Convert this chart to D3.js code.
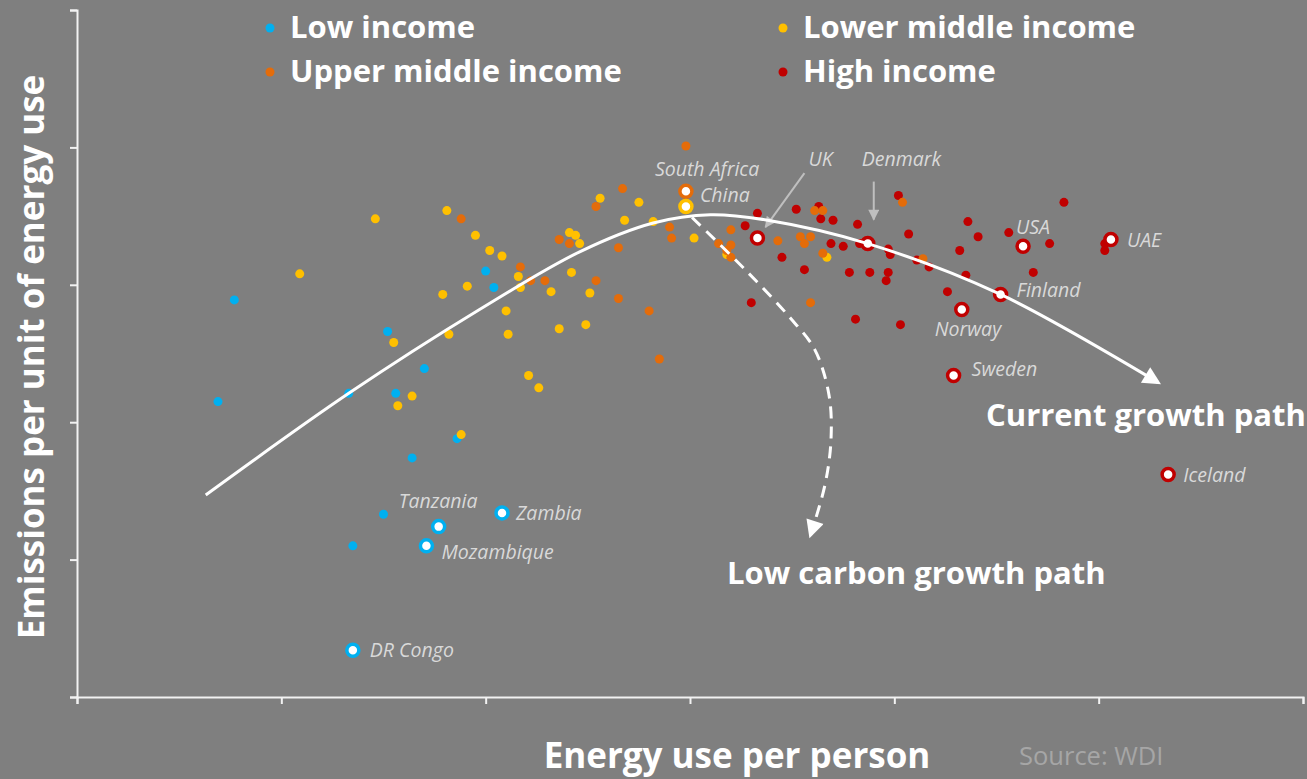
<!DOCTYPE html>
<html>
<head>
<meta charset="utf-8">
<script src="https://cdn.jsdelivr.net/npm/d3@7/dist/d3.min.js"></script>
<style>
  body { margin: 0; background: #7f7f7f; }
  text { font-family: "Open Sans", sans-serif; }
</style>
</head>
<body>
<svg id="vis"></svg>
<script>
// income groups (legend order)
var groups = ["Low income", "Lower middle income", "Upper middle income", "High income"];
var groupColors = ["#00b0f0", "#ffc000", "#e46c0a", "#c00000"];

// [energy use per person, emissions per unit of energy use]
var lowIncome = [
    [0.69,2.15],[0.77,2.89],[1.33,2.21],[1.52,2.66],[1.56,2.21],[1.70,2.39],
    [1.64,1.74],[1.86,1.88],[1.50,1.33],[1.35,1.10],[2.00,3.10],[2.04,2.98]
];
var lowerMiddle = [
    [1.46,3.48],[1.81,3.54],[1.95,3.36],[1.09,3.08],[1.79,2.93],[1.91,2.99],
    [1.55,2.58],[1.82,2.64],[1.64,2.19],[1.57,2.12],[1.88,1.91],[2.56,3.63],
    [2.75,3.60],[2.68,3.47],[2.41,3.38],[2.44,3.36],[2.46,3.30],[2.02,3.25],
    [2.08,3.21],[2.16,3.06],[2.17,2.98],[2.42,3.09],[2.32,2.95],[2.51,2.94],
    [2.10,2.81],[2.11,2.64],[2.36,2.68],[2.49,2.71],[2.82,3.46],[3.02,3.34],
    [2.21,2.34],[2.26,2.25],[3.18,3.22],[3.67,3.20]
];
var upperMiddle = [
    [1.88,3.48],[2.98,4.01],[2.67,3.70],[2.54,3.57],[2.36,3.33],[2.41,3.30],
    [2.65,3.27],[2.17,3.13],[2.22,3.03],[2.29,3.03],[2.54,3.03],[2.65,2.90],
    [2.80,2.81],[2.85,2.46],[2.90,3.42],[2.91,3.34],[3.20,3.40],[3.14,3.30],
    [3.20,3.29],[3.18,3.25],[3.20,3.20],[3.43,3.32],[3.54,3.35],[3.59,3.35],
    [3.56,3.30],[3.61,3.54],[3.65,3.54],[3.65,3.23],[4.04,3.60],[4.14,3.19],
    [3.59,2.87]
];
var highIncome = [
    [3.33,3.52],[3.27,3.43],[3.52,3.55],[3.63,3.57],[3.64,3.48],[3.70,3.47],
    [3.82,3.44],[4.02,3.65],[3.45,3.20],[3.56,3.11],[3.69,3.30],[3.75,3.28],
    [3.83,3.30],[3.78,3.09],[3.88,3.09],[3.97,3.26],[3.98,3.22],[3.97,3.09],
    [3.96,3.03],[4.07,3.37],[4.11,3.18],[4.17,3.13],[3.30,2.87],[3.81,2.75],
    [4.03,2.71],[4.26,2.95],[4.32,3.25],[4.36,3.46],[4.41,3.35],[4.35,3.07],
    [4.56,3.38],[4.76,3.30],[4.68,3.09],[4.83,3.60],[5.03,3.25],[5.03,3.30]
];
var seriesData = [lowIncome, lowerMiddle, upperMiddle, highIncome];

// named countries: [name, group index, x, y]
var countries = [
    ["Tanzania", 0, 1.77, 1.24],
    ["Zambia", 0, 2.08, 1.34],
    ["Mozambique", 0, 1.71, 1.10],
    ["DR Congo", 0, 1.35, 0.34],
    ["South Africa", 2, 2.98, 3.68],
    ["China", 1, 2.98, 3.57],
    ["UK", 3, 3.33, 3.34],
    ["Denmark", 3, 3.87, 3.30],
    ["USA", 3, 4.63, 3.28],
    ["UAE", 3, 5.06, 3.33],
    ["Finland", 3, 4.52, 2.93],
    ["Norway", 3, 4.33, 2.82],
    ["Sweden", 3, 4.29, 2.34],
    ["Iceland", 3, 5.34, 1.62]
];

// the two growth paths drawn over the points
var currentPath = [
    [0.63,1.47],[1.33,2.21],[1.97,2.82],[2.46,3.24],[2.82,3.45],[3.10,3.51],
    [3.38,3.47],[3.87,3.30],[4.52,2.93],[5.29,2.29]
];
var lowCarbonPath = [
    [3.01,3.49],[3.27,3.11],[3.49,2.76],[3.61,2.53],[3.68,2.20],[3.69,1.87],
    [3.66,1.54],[3.59,1.18]
];

var xTickCount = 6, yTickCount = 5;

function draw(){
    var W = 1307, H = 779;
    var svg = d3.select("#vis")
        .attr("width", W)
        .attr("height", H);

    svg.append("rect")
        .attr("width", W).attr("height", H)
        .attr("fill", "#7f7f7f");

    var x = d3.scaleLinear().domain([0, 6]).range([77, 1303]);
    var y = d3.scaleLinear().domain([0, 5]).range([697, 10]);

    // label placement for the named countries (pixel offsets from the point)
    var labelPos = {
        "Tanzania": [-40,-19], "Zambia": [14,7], "Mozambique": [15,13], "DR Congo": [17,7],
        "South Africa": [-31,-15], "China": [14,-4], "UK": [51,-72], "Denmark": [-6,-78],
        "USA": [-7,-12], "UAE": [16,8], "Finland": [16,3], "Norway": [-27,26],
        "Sweden": [18,1], "Iceland": [15,8]
    };

    var defs = svg.append("defs");
    defs.append("marker")
        .attr("id", "headWhite")
        .attr("viewBox", "0 -5 10 10")
        .attr("refX", 8).attr("refY", 0)
        .attr("markerUnits", "userSpaceOnUse")
        .attr("markerWidth", 20).attr("markerHeight", 18)
        .attr("orient", "auto")
        .append("path").attr("d", "M0,-5L10,0L0,5Z").attr("fill", "#fff");
    defs.append("marker")
        .attr("id", "headGrey")
        .attr("viewBox", "0 -5 10 10")
        .attr("refX", 9).attr("refY", 0)
        .attr("markerUnits", "userSpaceOnUse")
        .attr("markerWidth", 12).attr("markerHeight", 11)
        .attr("orient", "auto")
        .append("path").attr("d", "M0,-5L10,0L0,5Z").attr("fill", "#bfbfbf");

    // axes, no tick labels
    svg.append("g")
        .attr("transform", "translate(0," + y(0) + ")")
        .call(d3.axisBottom(x).ticks(xTickCount).tickSize(7).tickFormat(""));
    svg.append("g")
        .attr("transform", "translate(" + x(0) + ",0)")
        .call(d3.axisLeft(y).ticks(yTickCount).tickSize(7).tickFormat(""));
    svg.selectAll(".domain, .tick line")
        .attr("stroke", "#f2f2f2")
        .attr("stroke-width", 2);

    // plain dots, one layer per group
    var order = [0, 1, 3, 2];
    order.forEach(function(g){
        svg.append("g").selectAll("circle")
            .data(seriesData[g])
            .enter().append("circle")
            .attr("cx", function(d){ return x(d[0]); })
            .attr("cy", function(d){ return y(d[1]); })
            .attr("r", 4.5)
            .attr("fill", groupColors[g]);
    });

    // named countries as rings
    svg.append("g").selectAll("circle")
        .data(countries)
        .enter().append("circle")
        .attr("cx", function(d){ return x(d[2]); })
        .attr("cy", function(d){ return y(d[3]); })
        .attr("r", 6)
        .attr("fill", "#fff")
        .attr("stroke", function(d){ return groupColors[d[1]]; })
        .attr("stroke-width", 3.5);

    svg.append("g").selectAll("text")
        .data(countries)
        .enter().append("text")
        .text(function(d){ return d[0]; })
        .attr("x", function(d){ return x(d[2]) + labelPos[d[0]][0]; })
        .attr("y", function(d){ return y(d[3]) + labelPos[d[0]][1]; })
        .attr("font-size", 19.5)
        .attr("font-style", "italic")
        .attr("fill", "#d9d9d9");

    // pointer arrows for UK and Denmark
    var uk = countries[6], dk = countries[7];
    svg.append("line")
        .attr("x1", x(uk[2]) + 47).attr("y1", y(uk[3]) - 65)
        .attr("x2", x(uk[2]) + 8).attr("y2", y(uk[3]) - 11)
        .attr("stroke", "#bfbfbf").attr("stroke-width", 2)
        .attr("marker-end", "url(#headGrey)");
    svg.append("line")
        .attr("x1", x(dk[2]) + 6).attr("y1", y(dk[3]) - 62)
        .attr("x2", x(dk[2]) + 6).attr("y2", y(dk[3]) - 24)
        .attr("stroke", "#bfbfbf").attr("stroke-width", 2)
        .attr("marker-end", "url(#headGrey)");

    // growth paths
    var line = d3.line()
        .x(function(d){ return x(d[0]); })
        .y(function(d){ return y(d[1]); })
        .curve(d3.curveCatmullRom.alpha(0.5));

    svg.append("path")
        .datum(currentPath)
        .attr("d", line)
        .attr("fill", "none")
        .attr("stroke", "#fff")
        .attr("stroke-width", 3)
        .attr("marker-end", "url(#headWhite)");

    svg.append("path")
        .datum(lowCarbonPath)
        .attr("d", line)
        .attr("fill", "none")
        .attr("stroke", "#fff")
        .attr("stroke-width", 3)
        .attr("stroke-dasharray", "12,8")
        .attr("marker-end", "url(#headWhite)");

    svg.append("text")
        .text("Current growth path")
        .attr("x", 986).attr("y", 426)
        .attr("font-size", 31).attr("font-weight", "bold")
        .attr("fill", "#fff");
    svg.append("text")
        .text("Low carbon growth path")
        .attr("x", 727).attr("y", 584)
        .attr("font-size", 31).attr("font-weight", "bold")
        .attr("fill", "#fff");

    // legend
    var legendPos = [[270,28],[783,28],[270,72],[783,72]];
    var legend = svg.append("g").selectAll("g")
        .data(groups)
        .enter().append("g")
        .attr("transform", function(d, i){ return "translate(" + legendPos[i][0] + "," + legendPos[i][1] + ")"; });
    legend.append("circle")
        .attr("r", 4.5)
        .attr("fill", function(d, i){ return groupColors[i]; });
    legend.append("text")
        .text(function(d){ return d; })
        .attr("x", 20).attr("y", 10)
        .attr("font-size", 31).attr("font-weight", "bold")
        .attr("fill", "#fff");

    // axis titles and source
    svg.append("text")
        .text("Energy use per person")
        .attr("x", 737).attr("y", 768)
        .attr("text-anchor", "middle")
        .attr("font-size", 35).attr("font-weight", "bold")
        .attr("fill", "#fff");
    svg.append("text")
        .text("Emissions per unit of energy use")
        .attr("transform", "translate(44,357) rotate(-90)")
        .attr("text-anchor", "middle")
        .attr("font-size", 35).attr("font-weight", "bold")
        .attr("fill", "#fff");
    svg.append("text")
        .text("Source: WDI")
        .attr("x", 1019).attr("y", 765)
        .attr("font-size", 25.5)
        .attr("fill", "#a6a6a6");
}

draw();
</script>
</body>
</html>
